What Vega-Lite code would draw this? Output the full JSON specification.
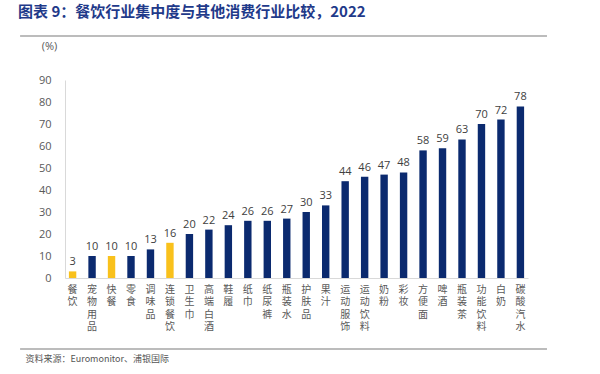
{
  "$schema": "https://vega.github.io/schema/vega-lite/v6.json",
  "width": 463,
  "height": 198,
  "autosize": "none",
  "padding": {"left": 65, "top": 80, "right": 72, "bottom": 96},
  "background": "white",
  "config": {"view": {"stroke": null}, "font": "Noto Sans CJK SC"},
  "title": {
    "text": "图表 9：餐饮行业集中度与其他消费行业比较，2022",
    "anchor": "start",
    "frame": "group",
    "dx": -47,
    "offset": 15,
    "fontSize": 15,
    "fontWeight": "bold",
    "color": "#1F3A8A",
    "font": "Noto Sans CJK SC"
  },
  "layer": [
    {
      "data": {
        "values": [
          {"cat": "餐饮", "v": 3, "g": "y"},
          {"cat": "宠物用品", "v": 10, "g": "b"},
          {"cat": "快餐", "v": 10, "g": "y"},
          {"cat": "零食", "v": 10, "g": "b"},
          {"cat": "调味品", "v": 13, "g": "b"},
          {"cat": "连锁餐饮", "v": 16, "g": "y"},
          {"cat": "卫生巾", "v": 20, "g": "b"},
          {"cat": "高端白酒", "v": 22, "g": "b"},
          {"cat": "鞋履", "v": 24, "g": "b"},
          {"cat": "纸巾", "v": 26, "g": "b"},
          {"cat": "纸尿裤", "v": 26, "g": "b"},
          {"cat": "瓶装水", "v": 27, "g": "b"},
          {"cat": "护肤品", "v": 30, "g": "b"},
          {"cat": "果汁", "v": 33, "g": "b"},
          {"cat": "运动服饰", "v": 44, "g": "b"},
          {"cat": "运动饮料", "v": 46, "g": "b"},
          {"cat": "奶粉", "v": 47, "g": "b"},
          {"cat": "彩妆", "v": 48, "g": "b"},
          {"cat": "方便面", "v": 58, "g": "b"},
          {"cat": "啤酒", "v": 59, "g": "b"},
          {"cat": "瓶装茶", "v": 63, "g": "b"},
          {"cat": "功能饮料", "v": 70, "g": "b"},
          {"cat": "白奶", "v": 72, "g": "b"},
          {"cat": "碳酸汽水", "v": 78, "g": "b"}
        ]
      },
      "encoding": {
        "x": {
          "field": "cat",
          "type": "nominal",
          "sort": null,
          "scale": {"paddingInner": 0.62, "paddingOuter": 0.2},
          "axis": {
            "title": "资料来源：Euromonitor、浦银国际",
            "titleFontSize": 9,
            "titleFontWeight": "normal",
            "titleColor": "#555555",
            "titleX": -40,
            "titleY": 80,
            "titleAlign": "left",
            "titleBaseline": "middle",
            "labelAngle": 0,
            "labelExpr": "split(datum.label, '')",
            "labelLineHeight": 12.5,
            "labelFontSize": 10,
            "labelColor": "#595959",
            "labelPadding": 6,
            "ticks": false,
            "domainColor": "#D9D9D9",
            "labelBaseline": "top"
          }
        },
        "y": {
          "field": "v",
          "type": "quantitative",
          "scale": {"domain": [0, 90]},
          "axis": {
            "values": [0, 10, 20, 30, 40, 50, 60, 70, 80, 90],
            "labelOverlap": false,
            "title": "(%)",
            "titleAngle": 0,
            "titleX": -16,
            "titleY": -29,
            "titleAlign": "center",
            "titleFontSize": 11,
            "titleFontWeight": "normal",
            "titleColor": "#595959",
            "titleFont": "Open Sans",
            "labelFont": "Open Sans",
            "labelFontSize": 11,
            "labelColor": "#595959",
            "labelPadding": 14,
            "ticks": false,
            "grid": false,
            "domainColor": "#D9D9D9"
          }
        }
      },
      "layer": [
        {
          "mark": {"type": "bar"},
          "encoding": {
            "color": {
              "field": "g",
              "type": "nominal",
              "scale": {"domain": ["b", "y"], "range": ["#0B2A6F", "#F9C11C"]},
              "legend": null
            }
          }
        },
        {
          "mark": {"type": "text", "dy": -9, "fontSize": 11, "color": "#404040", "font": "Open Sans"},
          "encoding": {"text": {"field": "v", "type": "quantitative"}}
        }
      ]
    },
    {
      "data": {"values": [{"x1": -0.097, "x2": 1.041, "yy": 110}, {"x1": -0.097, "x2": 1.041, "yy": -32.3}]},
      "mark": {"type": "rule", "color": "#A6A6A6", "strokeWidth": 1.5, "clip": false},
      "encoding": {
        "x": {"field": "x1", "type": "quantitative", "scale": {"domain": [0, 1], "nice": false, "zero": false}, "axis": null},
        "x2": {"field": "x2"},
        "y": {"field": "yy", "type": "quantitative", "scale": {"domain": [0, 90]}, "axis": null}
      }
    }
  ],
  "resolve": {"scale": {"x": "independent"}, "axis": {"x": "independent", "y": "independent"}}
}
